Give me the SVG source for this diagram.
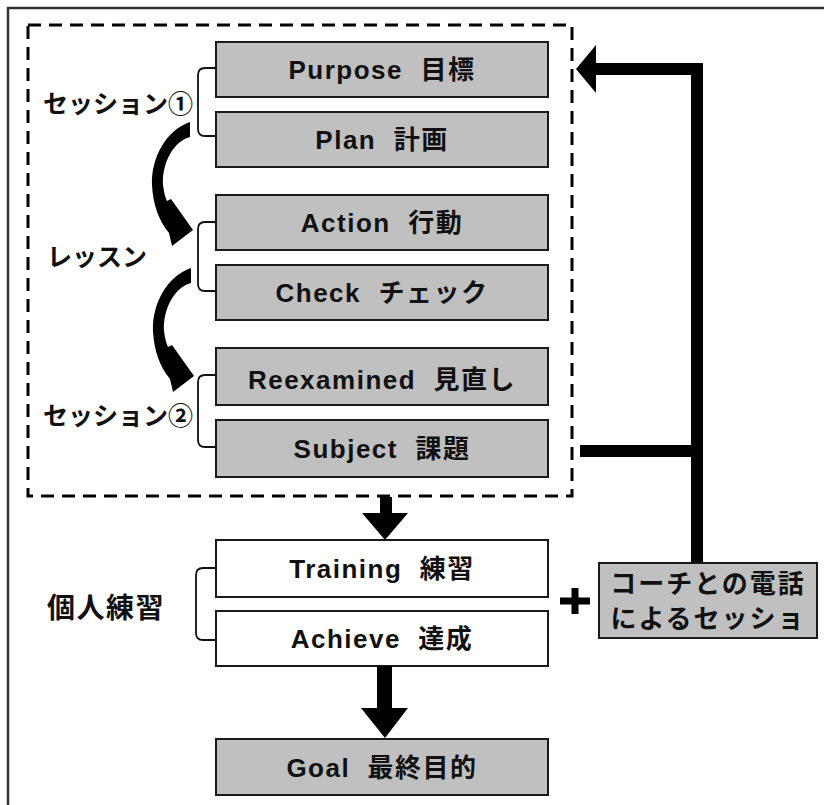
<svg xmlns="http://www.w3.org/2000/svg" width="824" height="805" viewBox="0 0 824 805">
<style>
.box{fill:#c0c0c0;stroke:#1a1a1a;stroke-width:2}
.wbox{fill:#ffffff;stroke:#1a1a1a;stroke-width:2}
.t{font-family:"Liberation Sans","Noto Sans CJK JP",sans-serif;font-weight:bold;font-size:26px;letter-spacing:1.5px;fill:#111;text-anchor:middle}
.lab{font-family:"Noto Sans CJK JP",sans-serif;font-weight:bold;font-size:25px;fill:#111}
.br{fill:none;stroke:#111;stroke-width:1.8}
.conn{fill:none;stroke:#000;stroke-width:12}
</style>
<rect x="8" y="8" width="900" height="900" fill="none" stroke="#333" stroke-width="2.5"/>
<rect x="28" y="25" width="544" height="471" fill="none" stroke="#000" stroke-width="3" stroke-dasharray="13 8"/>

<g id="labels">
<text class="lab" x="43" y="113">セッション①</text>
<text class="lab" x="47" y="266">レッスン</text>
<text class="lab" x="43" y="425">セッション②</text>
<text class="lab" x="47" y="618" style="font-size:28px;letter-spacing:1.5px">個人練習</text>
</g>

<g id="brackets">
<path class="br" d="M216,68 L205,68 Q198,68 198,75 L198,129 Q198,136 205,136 L216,136"/>
<path class="br" d="M216,222 L205,222 Q198,222 198,229 L198,284 Q198,291 205,291 L216,291"/>
<path class="br" d="M216,375 L205,375 Q198,375 198,382 L198,440 Q198,447 205,447 L216,447"/>
<path class="br" d="M216,568 L203,568 Q196,568 196,575 L196,633 Q196,640 203,640 L216,640"/>
</g>

<g id="n-purpose"><rect class="box" x="216" y="42" width="332" height="55"/><text class="t" x="382" y="79">Purpose&#160;&#160;目標</text></g>
<g id="n-plan"><rect class="box" x="216" y="112" width="332" height="55"/><text class="t" x="382" y="149">Plan&#160;&#160;計画</text></g>
<g id="n-action"><rect class="box" x="216" y="195" width="332" height="55"/><text class="t" x="382" y="232">Action&#160;&#160;行動</text></g>
<g id="n-check"><rect class="box" x="216" y="265" width="332" height="55"/><text class="t" x="382" y="302">Check&#160;&#160;チェック</text></g>
<g id="n-reexamined"><rect class="box" x="216" y="348" width="332" height="57"/><text class="t" x="382" y="389">Reexamined&#160;&#160;見直し</text></g>
<g id="n-subject"><rect class="box" x="216" y="420" width="332" height="57"/><text class="t" x="382" y="458">Subject&#160;&#160;課題</text></g>
<g id="n-training"><rect class="wbox" x="216" y="540" width="332" height="57"/><text class="t" x="382" y="578">Training&#160;&#160;練習</text></g>
<g id="n-achieve"><rect class="wbox" x="216" y="611" width="332" height="55"/><text class="t" x="382" y="648">Achieve&#160;&#160;達成</text></g>
<g id="n-goal"><rect class="box" x="216" y="739" width="332" height="56"/><text class="t" x="382" y="777">Goal&#160;&#160;最終目的</text></g>
<g id="n-coach"><rect class="box" x="599" y="563" width="218" height="75"/>
<text class="lab" x="708" y="593" style="font-size:26px;letter-spacing:2px;text-anchor:middle">コーチとの電話</text>
<text class="lab" x="708" y="628" style="font-size:26px;letter-spacing:2px;text-anchor:middle">によるセッショ</text></g>
<g id="plus"><path d="M560,601 L590,601 M575,588 L575,614" stroke="#000" stroke-width="7" fill="none"/></g>

<g id="connectors">
<path d="M190,122 L190,137 C174,141 162,162 163,185 C164,192 165,197 167,201 L171,199 L193,230 L172,246 L169,233 C159,221 153,205 152,185 C151,158 166,130 190,122 Z" fill="#000"/>
<path d="M190,122 L190,137 C174,141 162,162 163,185 C164,192 165,197 167,201 L171,199 L193,230 L172,246 L169,233 C159,221 153,205 152,185 C151,158 166,130 190,122 Z" fill="#000" transform="translate(1,146)"/>
<path d="M380,497 L392,497 L392,513 L408,513 L385,540 L362,513 L380,513 Z" fill="#000"/>
<path d="M377,666 L392,666 L392,708 L408,708 L385,738 L361,708 L377,708 Z" fill="#000"/>
<polyline class="conn" points="580,451 697,451"/>
<polyline class="conn" points="697,562 697,69 592,69" stroke-linejoin="miter"/>
<polygon points="576,69 596,45 596,93" fill="#000"/>
</g>
</svg>
